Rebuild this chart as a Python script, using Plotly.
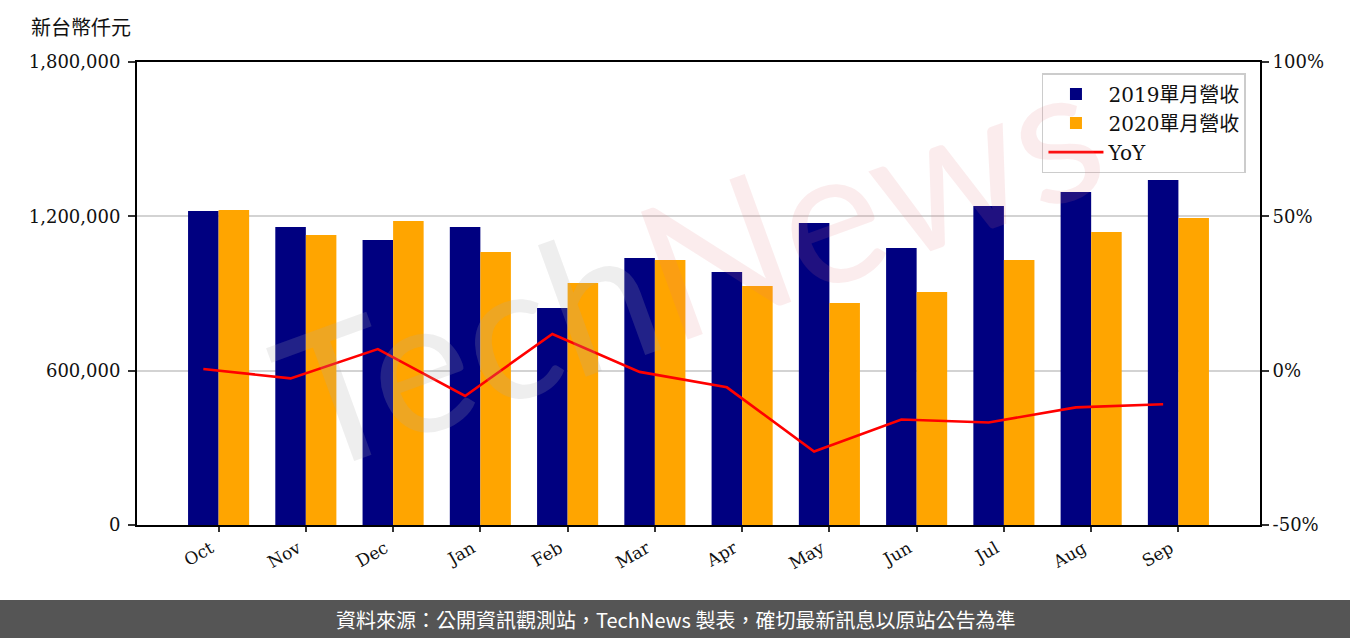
import plotly.graph_objects as go

months = ["Oct", "Nov", "Dec", "Jan", "Feb", "Mar", "Apr", "May", "Jun", "Jul", "Aug", "Sep"]
rev_2019 = [1221000, 1158600, 1108000, 1158600, 843700, 1038100, 983700, 1174200, 1077000, 1240300, 1294700, 1341400]
rev_2020 = [1225000, 1127500, 1182000, 1061400, 940900, 1030300, 929200, 863100, 905900, 1030300, 1139200, 1193600]
yoy = [0.55, -2.5, 7.0, -8.2, 11.9, -0.4, -5.4, -26.2, -15.8, -16.8, -11.9, -10.9]

left_ticks = [0, 600000, 1200000, 1800000]
left_ticktext = ["0", "600,000", "1,200,000", "1,800,000"]
right_ticks = [-50, 0, 50, 100]
right_ticktext = ["-50%", "0%", "50%", "100%"]

idx = list(range(len(months)))
W = 0.35

FONT = "DejaVu Serif, Noto Sans CJK TC, serif"

fig = go.Figure()
fig.add_trace(go.Bar(x=idx, y=rev_2019, name="2019單月營收", marker_color="#000080",
                     width=W, offset=-W, marker_line_width=0))
fig.add_trace(go.Bar(x=idx, y=rev_2020, name="2020單月營收", marker_color="#FFA500",
                     width=W, offset=0, marker_line_width=0))
fig.add_trace(go.Scatter(x=[i - W / 2 for i in idx], y=yoy, name="YoY", mode="lines",
                         line=dict(color="#FF0000", width=2.6), yaxis="y2"))

fig.update_layout(
    width=1350, height=638,
    margin=dict(l=137, r=90, t=62, b=113),
    plot_bgcolor="white", paper_bgcolor="white",
    barmode="overlay",
    font=dict(family=FONT, size=18, color="#111"),
    xaxis=dict(range=[-0.935, 11.935], tickmode="array", tickvals=idx, ticktext=months,
               tickangle=-30, showline=True, mirror=True, linecolor="black", linewidth=2,
               ticks="outside", ticklen=5, tickwidth=1.5, tickcolor="#333",
               showgrid=False, zeroline=False, tickfont=dict(size=17), ticklabelshift=-8),
    yaxis=dict(range=[0, 1800000], tickmode="array", tickvals=left_ticks, ticktext=left_ticktext,
               showline=True, linecolor="black", linewidth=2, ticks="outside", ticklen=7,
               tickwidth=1.5, tickcolor="#333", showgrid=True, gridcolor="#d3d3d3", gridwidth=2,
               zeroline=False, tickfont=dict(size=18), ticklabelstandoff=4),
    yaxis2=dict(range=[-50, 100], overlaying="y", side="right", tickmode="array",
                tickvals=right_ticks, ticktext=right_ticktext, showline=True, linecolor="black",
                linewidth=2, ticks="outside", ticklen=7, tickwidth=1.5, tickcolor="#333",
                showgrid=False, zeroline=False, tickfont=dict(size=18)),
    legend=dict(x=0.9875, y=0.976, xanchor="right", yanchor="top",
                bgcolor="rgba(255,255,255,0.85)", bordercolor="#cccccc", borderwidth=1.5,
                font=dict(size=20), tracegroupgap=2, itemwidth=55),
    showlegend=True,
)

# watermark
fig.add_annotation(xref="paper", yref="paper", x=0.49, y=0.57, showarrow=False,
                   text="<span style='color:rgba(170,170,170,0.2)'>Tech</span>"
                        "<span style='color:rgba(225,120,130,0.14)'>News</span>",
                   font=dict(family="Lato, sans-serif", size=190), textangle=-20)

# axis unit title
fig.add_annotation(xref="paper", yref="paper", x=-0.05, y=1.0756, showarrow=False,
                   text="新台幣仟元", font=dict(size=20, family="Noto Sans CJK TC"),
                   xanchor="center", yanchor="middle")

# bottom banner
fig.add_shape(type="rect", xref="paper", yref="paper",
              x0=-140 / 1123, x1=(1352 - 137) / 1123, y0=(525 - 640) / 463, y1=(525 - 600) / 463,
              fillcolor="#555555", line_width=0, layer="above")
fig.add_annotation(xref="paper", yref="paper", x=(675 - 137) / 1123, y=(525 - 619) / 463,
                   showarrow=False, xanchor="center", yanchor="middle",
                   text="資料來源：公開資訊觀測站，TechNews 製表，確切最新訊息以原站公告為準",
                   font=dict(family="Noto Sans CJK TC", size=20, color="white"))

fig.write_html("out.html", config={"displayModeBar": False},
               post_script="document.body.style.margin='0';document.body.style.overflow='hidden';")
